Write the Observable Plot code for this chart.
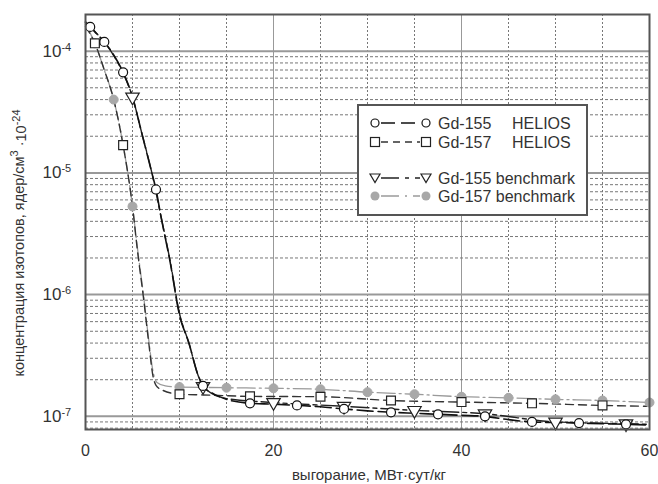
<!DOCTYPE html>
<html>
<head>
<meta charset="utf-8">
<script src="https://cdn.jsdelivr.net/npm/d3@7"></script>
<script src="https://cdn.jsdelivr.net/npm/@observablehq/plot@0.6"></script>
<style>
  html, body { margin: 0; padding: 0; background: #fff; }
  #chart { position: relative; width: 658px; height: 484px; }
</style>
</head>
<body>
<div id="chart"></div>
<script>
// ---------- data ----------
// Gd-155 HELIOS (open circles)
const gd155HeliosX = [0, 0.5, 1, 2, 3, 4, 5, 6, 7, 7.5, 8, 9, 10, 11, 12, 12.5, 13.5, 15, 17.5, 20, 22.5, 25, 27.5, 30, 32.5, 35, 37.5, 40, 42.5, 45, 47.5, 50, 52.5, 55, 57.5, 60];
const gd155HeliosY = [1.72e-4, 1.58e-4, 1.44e-4, 1.19e-4, 9.3e-5, 6.7e-5, 4.2e-5, 2.1e-5, 1.04e-5, 7.3e-6, 4.5e-6, 1.86e-6, 6.8e-7, 4.0e-7, 2.15e-7, 1.78e-7, 1.55e-7, 1.38e-7, 1.28e-7, 1.26e-7, 1.23e-7, 1.2e-7, 1.15e-7, 1.11e-7, 1.08e-7, 1.06e-7, 1.04e-7, 1.02e-7, 1.0e-7, 9.4e-8, 9.0e-8, 8.9e-8, 8.8e-8, 8.7e-8, 8.6e-8, 8.5e-8];
const gd155HeliosMarks = [0.5, 2, 4, 7.5, 12.5, 17.5, 22.5, 27.5, 32.5, 37.5, 42.5, 47.5, 52.5, 57.5];

// Gd-155 benchmark (open down-triangles)
const gd155BenchX = [0, 1, 2, 3, 4, 5, 6, 7, 8, 9, 10, 11, 12, 12.5, 15, 20, 27.5, 35, 42.5, 50, 57.5, 60];
const gd155BenchY = [1.75e-4, 1.45e-4, 1.19e-4, 9.2e-5, 6.6e-5, 4.2e-5, 2.1e-5, 1.05e-5, 4.5e-6, 1.9e-6, 7.0e-7, 4.0e-7, 2.15e-7, 1.76e-7, 1.4e-7, 1.3e-7, 1.21e-7, 1.12e-7, 1.05e-7, 9.0e-8, 8.7e-8, 8.6e-8];
const gd155BenchMarks = [5, 12.5, 20, 27.5, 35, 42.5, 50, 57.5];

// Gd-157 HELIOS (open squares)
const gd157HeliosX = [0, 1, 2, 3, 4, 5, 5.5, 6.2, 6.7, 7.2, 7.5, 8.2, 10, 12.5, 17.5, 25, 32.5, 40, 47.5, 55, 60];
const gd157HeliosY = [1.6e-4, 1.16e-4, 7.0e-5, 4.0e-5, 1.69e-5, 5.3e-6, 2.4e-6, 9.0e-7, 4.2e-7, 2.1e-7, 1.8e-7, 1.64e-7, 1.52e-7, 1.5e-7, 1.46e-7, 1.45e-7, 1.35e-7, 1.31e-7, 1.28e-7, 1.23e-7, 1.21e-7];
const gd157HeliosMarks = [1, 4, 10, 17.5, 25, 32.5, 40, 47.5, 55];

// Gd-157 benchmark (grey filled circles)
const gd157BenchX = [0, 1, 2, 3, 4, 5, 5.5, 6.2, 6.7, 7.2, 7.6, 8.5, 10, 15, 20, 25, 30, 35, 40, 45, 50, 55, 60];
const gd157BenchY = [1.65e-4, 1.16e-4, 7.0e-5, 4.0e-5, 1.7e-5, 5.3e-6, 2.5e-6, 9.5e-7, 4.4e-7, 2.3e-7, 1.9e-7, 1.78e-7, 1.74e-7, 1.72e-7, 1.7e-7, 1.67e-7, 1.58e-7, 1.52e-7, 1.45e-7, 1.42e-7, 1.38e-7, 1.35e-7, 1.3e-7];
const gd157BenchMarks = [1, 3, 5, 10, 15, 20, 25, 30, 35, 40, 45, 50, 55, 60];

// axes / grid
const xTicks = [0, 20, 40, 60];
const xMajorGrid = [20, 40];
const xMinorGrid = [5, 10, 15, 25, 30, 35, 45, 50, 55];
const yTicks = [1e-7, 1e-6, 1e-5, 1e-4];
const yDomain = [7.8e-8, 2e-4];
const yMinorGrid = [];
for (const d of [1e-8, 1e-7, 1e-6, 1e-5, 1e-4]) for (const k of [2,3,4,5,6,7,8,9]) { const v = k*d; if (v > yDomain[0] && v < yDomain[1]) yMinorGrid.push(v); }

const legendLabels = ["Gd-155", "Gd-157", "Gd-155 benchmark", "Gd-157 benchmark"];
const legendCodes = ["HELIOS", "HELIOS", "", ""];
const xLabel = "выгорание, МВт·сут/кг";

// ---------- build ----------
const zip = (xs, ys) => xs.map((x, i) => ({x, y: ys[i]}));
const s155h = zip(gd155HeliosX, gd155HeliosY);
const s155b = zip(gd155BenchX, gd155BenchY);
const s157h = zip(gd157HeliosX, gd157HeliosY);
const s157b = zip(gd157BenchX, gd157BenchY);
const pick = (s, m) => s.filter(d => m.includes(d.x));

const FONT = "'Liberation Sans', Arial, Helvetica, sans-serif";
const styles = {
  h155: {stroke: "#111", strokeWidth: 1.6, strokeDasharray: "16,5"},
  h157: {stroke: "#333", strokeWidth: 1.4, strokeDasharray: "8,5"},
  b155: {stroke: "#222", strokeWidth: 1.4, strokeDasharray: "18,4,4,4"},
  b157: {stroke: "#9a9a9a", strokeWidth: 1.3, strokeDasharray: "18,4,2,4"}
};

const plot = Plot.plot({
  width: 658, height: 484,
  marginLeft: 85, marginRight: 9, marginTop: 14, marginBottom: 55,
  style: {fontFamily: FONT, fontSize: "16px", color: "#333", background: "#fff"},
  x: {domain: [0, 60]},
  y: {type: "log", domain: yDomain},
  marks: [
    Plot.ruleX(xMinorGrid, {stroke: "#777", strokeDasharray: "2,2", strokeWidth: 1}),
    Plot.ruleX(xMajorGrid, {stroke: "#999", strokeWidth: 1}),
    Plot.ruleY(yMinorGrid, {stroke: "#777", strokeDasharray: "3,2", strokeWidth: 1}),
    Plot.ruleY(yTicks, {stroke: "#999", strokeWidth: 2}),
    Plot.line(s157b, {x: "x", y: "y", curve: "monotone-x", ...styles.b157}),
    Plot.line(s157h, {x: "x", y: "y", curve: "monotone-x", ...styles.h157}),
    Plot.line(s155b, {x: "x", y: "y", curve: "monotone-x", ...styles.b155}),
    Plot.line(s155h, {x: "x", y: "y", curve: "monotone-x", ...styles.h155}),
    Plot.dot(pick(s157b, gd157BenchMarks), {x: "x", y: "y", r: 4.5, fill: "#a8a8a8", stroke: "#a8a8a8", strokeWidth: 1}),
    Plot.dot(pick(s157h, gd157HeliosMarks), {x: "x", y: "y", symbol: "square", r: 5, fill: "#fff", stroke: "#222", strokeWidth: 1.2}),
    Plot.dot(pick(s155b, gd155BenchMarks), {x: "x", y: "y", symbol: "triangle", rotate: 180, r: 5, fill: "#fff", stroke: "#222", strokeWidth: 1.2}),
    Plot.dot(pick(s155h, gd155HeliosMarks), {x: "x", y: "y", r: 4.5, fill: "#fff", stroke: "#111", strokeWidth: 1.2}),
    Plot.frame({stroke: "#555", strokeWidth: 2}),
    Plot.axisX({ticks: xTicks, tickSize: 0, tickPadding: 15, label: null, fontSize: 16}),
    Plot.axisY({ticks: yTicks, tickSize: 0, tickPadding: 22, label: null, fontSize: 17,
      tickFormat: d => String(Math.round(Math.log10(d)))})
  ]
});
document.getElementById("chart").appendChild(plot);

const svg = d3.select(plot);
// y tick labels as 10^n
svg.selectAll('g[aria-label="y-axis tick label"] text').each(function() {
  const e = this.textContent.replace("−", "-");
  const t = d3.select(this);
  t.text("10").attr("text-anchor", "start").attr("dx", "-21");
  t.append("tspan").attr("dy", "-0.55em").attr("font-size", "11px").text(e);
});

// x label
svg.append("text").attr("x", 369).attr("y", 480).attr("text-anchor", "middle")
  .attr("font-family", FONT).attr("font-size", 15).attr("fill", "#333").text(xLabel);

// y label
const yl = svg.append("text").attr("transform", "translate(24,243) rotate(-90)")
  .attr("text-anchor", "middle").attr("font-family", FONT).attr("font-size", 14.5).attr("fill", "#333");
yl.append("tspan").text("концентрация изотопов, ядер/см");
yl.append("tspan").attr("dy", "-0.55em").attr("font-size", 11).text("3");
yl.append("tspan").attr("dy", "0.55em").text(" ·10");
yl.append("tspan").attr("dy", "-0.55em").attr("font-size", 11).text("-24");

// legend
const lg = svg.append("g").attr("font-family", FONT).attr("font-size", 16).attr("fill", "#333").attr("text-anchor", "start");
lg.append("rect").attr("x", 358).attr("y", 105).attr("width", 229).attr("height", 110)
  .attr("fill", "#fff").attr("stroke", "#555").attr("stroke-width", 2);
const rowsY = [123, 142, 178, 196];
const keys = ["h155", "h157", "b155", "b157"];
keys.forEach((k, i) => {
  const y = rowsY[i], st = styles[k];
  lg.append("line").attr("x1", 381).attr("x2", 420).attr("y1", y).attr("y2", y)
    .attr("stroke", st.stroke).attr("stroke-width", st.strokeWidth)
    .attr("stroke-dasharray", k === "h155" ? "14,6" : k === "h157" ? "7,5" : k === "b155" ? "18,6,4,6" : "18,6,2,6");
  for (const cx of [375, 426]) {
    if (k === "h155") lg.append("circle").attr("cx", cx).attr("cy", y).attr("r", 4).attr("fill", "#fff").attr("stroke", "#111").attr("stroke-width", 1.2);
    if (k === "h157") lg.append("rect").attr("x", cx - 4.5).attr("y", y - 4.5).attr("width", 9).attr("height", 9).attr("fill", "#fff").attr("stroke", "#222").attr("stroke-width", 1.2);
    if (k === "b155") lg.append("path").attr("d", `M${cx-5},${y-4}L${cx+5},${y-4}L${cx},${y+4.5}Z`).attr("fill", "#fff").attr("stroke", "#222").attr("stroke-width", 1.2);
    if (k === "b157") lg.append("circle").attr("cx", cx).attr("cy", y).attr("r", 4.5).attr("fill", "#a8a8a8");
  }
  lg.append("text").attr("x", 438).attr("y", y).attr("dy", "0.36em").attr("text-anchor", "start").text(legendLabels[i]);
  if (legendCodes[i]) lg.append("text").attr("x", 512).attr("y", y).attr("dy", "0.36em").attr("text-anchor", "start").text(legendCodes[i]);
});
</script>
</body>
</html>
